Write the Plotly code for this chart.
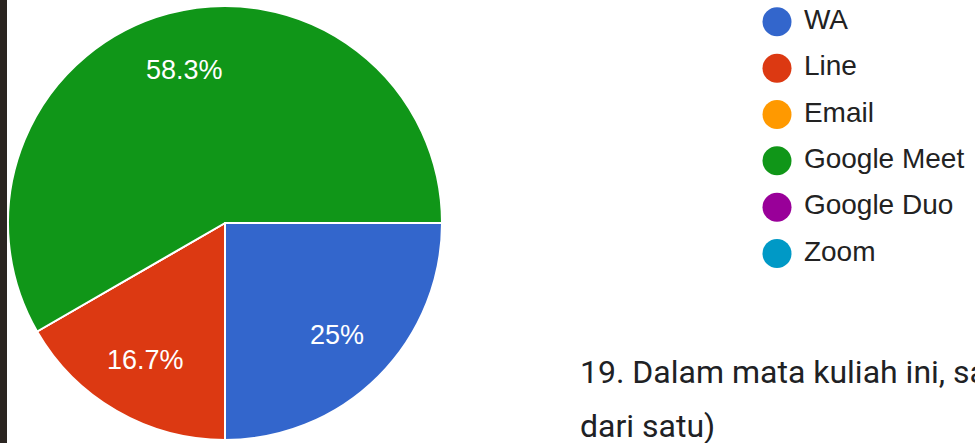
import math
import plotly.graph_objects as go

labels = ["WA", "Line", "Email", "Google Meet", "Google Duo", "Zoom"]
values = [3, 2, 0, 7, 0, 0]
colors = ["#3366cc", "#dc3912", "#ff9900", "#109618", "#990099", "#0099c6"]
question_line1 = "19. Dalam mata kuliah ini, saya"
question_line2 = "dari satu)"

W, H = 975, 443
# pie geometry (pixels)
CX, CY, R = 225, 223, 217
START_DEG = 90  # first slice starts at 3 o'clock, clockwise

fig = go.Figure()

fig.add_trace(go.Pie(
    labels=labels, values=values, sort=False, direction="clockwise", rotation=START_DEG,
    marker=dict(colors=colors, line=dict(color="white", width=2)),
    textinfo="none",
    domain=dict(x=[(CX - R) / W, (CX + R) / W], y=[(H - CY - R) / H, (H - CY + R) / H]),
    showlegend=False, hoverinfo="label+percent",
))

# percentage labels placed at the middle angle of each non-empty slice
annotations = []
total = sum(values)
cum = 0
for lab, v in zip(labels, values):
    if v > 0:
        mid = START_DEG + (cum + v / 2) / total * 360
        d = 0.73 * R
        px = CX + d * math.sin(math.radians(mid))
        py = CY - d * math.cos(math.radians(mid))
        pct = v / total * 100
        txt = (f"{pct:.1f}".rstrip("0").rstrip(".")) + "%"
        annotations.append(dict(
            text=txt, xref="paper", yref="paper", x=px / W, y=(H - py) / H,
            xanchor="center", yanchor="middle", showarrow=False,
            font=dict(size=27, color="white", family="Liberation Sans, Arial")))
    cum += v

# custom legend with circle markers
fig.add_trace(go.Scatter(
    x=[0] * len(labels), y=list(range(len(labels))), mode="markers+text",
    marker=dict(symbol="circle", size=29, color=colors, line=dict(width=0)),
    text=[" " + l for l in labels], textposition="middle right",
    textfont=dict(size=28, color="#222222", family="Liberation Sans, Arial"),
    showlegend=False, hoverinfo="skip", cliponaxis=False,
    xaxis="x", yaxis="y",
))

annotations += [
    dict(text=question_line1, xref="paper", yref="paper", x=578 / W, y=(H - 372) / H,
         xanchor="left", yanchor="middle", showarrow=False,
         font=dict(size=32, color="#202124", family="Roboto, Arial")),
    dict(text=question_line2, xref="paper", yref="paper", x=578 / W, y=(H - 426) / H,
         xanchor="left", yanchor="middle", showarrow=False,
         font=dict(size=32, color="#202124", family="Roboto, Arial")),
]

fig.update_layout(
    width=W, height=H, margin=dict(l=0, r=0, t=0, b=0),
    paper_bgcolor="white", plot_bgcolor="white",
    xaxis=dict(domain=[762 / W, 792 / W], range=[-1, 1], visible=False, fixedrange=True),
    yaxis=dict(domain=[(H - 280) / H, 1], range=[5.57, -0.47], visible=False, fixedrange=True),
    shapes=[dict(type="rect", xref="paper", yref="paper", x0=0, x1=7 / W, y0=0, y1=1,
                 fillcolor="#2b2521", line=dict(width=0), layer="above")],
    annotations=annotations,
)

fig.write_html("out.html", config={"displayModeBar": False},
               post_script="document.body.style.margin='0';document.body.style.overflow='hidden';")
